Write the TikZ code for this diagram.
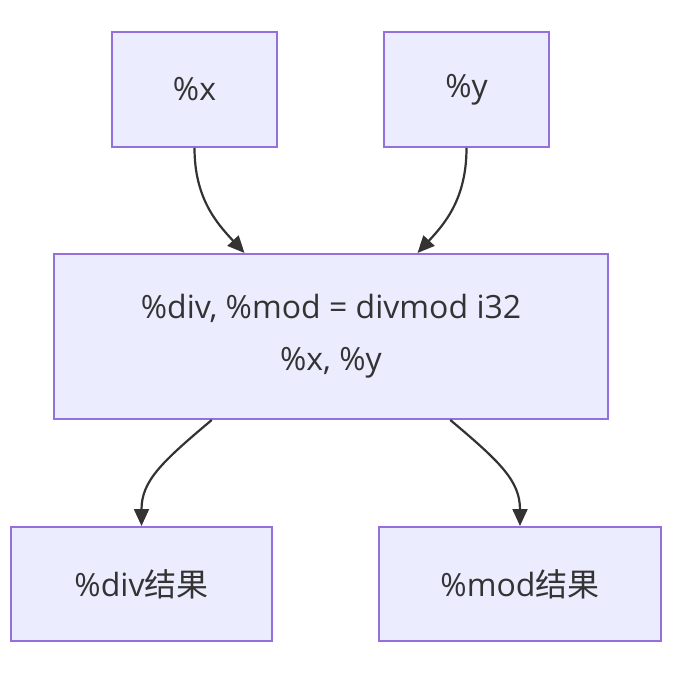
\documentclass[tikz,border=0pt]{standalone}
\usepackage{fontspec}
\setmainfont{Open Sans}
\newfontfamily\cjk{Noto Sans CJK SC}
\usetikzlibrary{arrows.meta}
\definecolor{boxfill}{HTML}{ECECFF}
\definecolor{boxline}{HTML}{9370DB}
\definecolor{ink}{HTML}{333333}
\tikzset{
  box/.style={draw=boxline, fill=boxfill, line width=2pt, text=ink,
    font=\fontsize{32}{52}\selectfont, inner sep=0pt, align=center},
  arr/.style={draw=ink, line width=2.2pt, -{Triangle[length=17pt,width=15pt]}}
}
\begin{document}
\begin{tikzpicture}[x=1pt,y=1pt]
  \useasboundingbox (0,0) rectangle (688,678);
  \node[box, minimum width=165, minimum height=115] (X)   at (194.5,588.5) {\%x};
  \node[box, minimum width=165, minimum height=115] (Y)   at (466.5,588.5) {\%y};
  \node[box, minimum width=554, minimum height=165] (DM)  at (331,341.5) {\%div, \%mod = divmod i32\\\%x, \%y};
  \node[box, minimum width=261, minimum height=114] (Div) at (141.5,94) {\%div{\cjk 结果}};
  \node[box, minimum width=282, minimum height=114] (Mod) at (520,94) {\%mod{\cjk 结果}};
  % operands
  \draw[arr] (X.south) .. controls +(0,-50) and +(-28,30) .. (DM.136);
  \draw[arr] (Y.south) .. controls +(0,-50) and +(28,30) .. (DM.44);
  % results
  \draw[arr] (DM.215) .. controls +(-50,-42) and +(0,45) .. (Div.north);
  \draw[arr] (DM.325) .. controls +(50,-42) and +(0,45) .. (Mod.north);
\end{tikzpicture}
\end{document}
